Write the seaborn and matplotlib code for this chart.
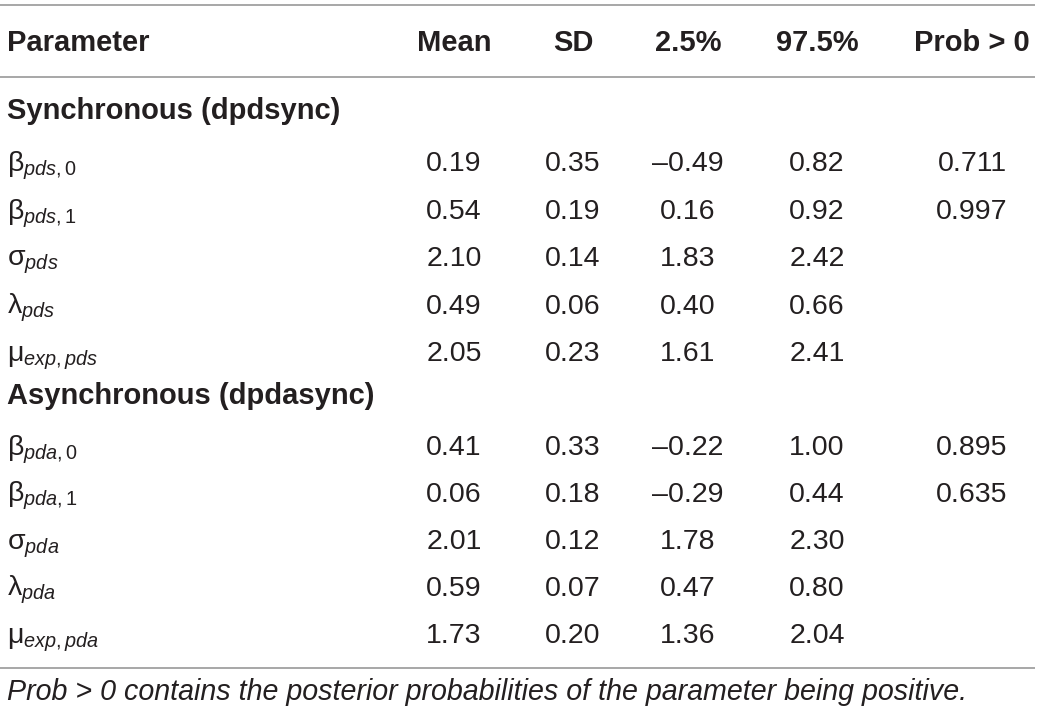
import matplotlib
matplotlib.use("Agg")
import matplotlib.pyplot as plt
import seaborn as sns

# table content
columns = ["Parameter", "Mean", "SD", "2.5%", "97.5%", "Prob > 0"]
sync_title = "Synchronous (dpdsync)"
async_title = "Asynchronous (dpdasync)"

sync_params = [r"$\mathrm{\beta}_{pds,0}$", r"$\mathrm{\beta}_{pds,1}$",
               r"$\mathrm{\sigma}_{pds}$", r"$\mathrm{\lambda}_{pds}$",
               r"$\mathrm{\mu}_{exp,pds}$"]
sync_mean = [0.19, 0.54, 2.10, 0.49, 2.05]
sync_sd = [0.35, 0.19, 0.14, 0.06, 0.23]
sync_lo = [-0.49, 0.16, 1.83, 0.40, 1.61]
sync_hi = [0.82, 0.92, 2.42, 0.66, 2.41]
sync_prob = [0.711, 0.997, None, None, None]

async_params = [r"$\mathrm{\beta}_{pda,0}$", r"$\mathrm{\beta}_{pda,1}$",
                r"$\mathrm{\sigma}_{pda}$", r"$\mathrm{\lambda}_{pda}$",
                r"$\mathrm{\mu}_{exp,pda}$"]
async_mean = [0.41, 0.06, 2.01, 0.59, 1.73]
async_sd = [0.33, 0.18, 0.12, 0.07, 0.20]
async_lo = [-0.22, -0.29, 1.78, 0.47, 1.36]
async_hi = [1.00, 0.44, 2.30, 0.80, 2.04]
async_prob = [0.895, 0.635, None, None, None]

footnote = "Prob > 0 contains the posterior probabilities of the parameter being positive."

sns.set_theme(style="white")
plt.rcParams["font.family"] = ["Liberation Sans", "DejaVu Sans"]
plt.rcParams["mathtext.fontset"] = "custom"
plt.rcParams["mathtext.rm"] = "Liberation Sans"
plt.rcParams["mathtext.it"] = "Liberation Sans:italic"
plt.rcParams["mathtext.bf"] = "Liberation Sans:bold"

TXT = "#231f20"
RULE = "#8f8f8f"
FS = 20.5
FS_BOLD = 21


def fmt(v, nd=2):
    if v is None:
        return ""
    return f"{v:.{nd}f}".replace("-", "\u2013")


fig = plt.figure(figsize=(10.4, 7.17), dpi=100)
ax = fig.add_axes([0, 0, 1, 1])
ax.set_xlim(0, 1040)
ax.set_ylim(717, 0)
ax.axis("off")

col_x = [7, 454, 573, 688, 817, 972]

# rules
for y in (5, 77, 668):
    ax.plot([0, 1035], [y, y], color=RULE, lw=1.1, solid_capstyle="butt")

# header
ax.text(col_x[0], 51, columns[0], ha="left", va="baseline", fontsize=FS_BOLD,
        fontweight="bold", color=TXT)
for x, c in zip(col_x[1:], columns[1:]):
    ax.text(x, 51, c, ha="center", va="baseline", fontsize=FS_BOLD,
            fontweight="bold", color=TXT)


def draw_block(title, title_y, row_ys, params, mean, sd, lo, hi, prob):
    ax.text(col_x[0], title_y, title, ha="left", va="baseline",
            fontsize=FS_BOLD, fontweight="bold", color=TXT)
    for i, y in enumerate(row_ys):
        ax.text(col_x[0], y, params[i], ha="left", va="baseline",
                fontsize=FS, color=TXT)
        cells = [fmt(mean[i]), fmt(sd[i]), fmt(lo[i]), fmt(hi[i]),
                 fmt(prob[i], 3)]
        for x, s in zip(col_x[1:], cells):
            ax.text(x, y, s, ha="center", va="baseline", fontsize=FS,
                    color=TXT)


draw_block(sync_title, 119, [171, 219, 266, 314, 361], sync_params,
           sync_mean, sync_sd, sync_lo, sync_hi, sync_prob)
draw_block(async_title, 404, [455, 502, 549, 596, 643], async_params,
           async_mean, async_sd, async_lo, async_hi, async_prob)

ax.text(col_x[0], 700, footnote, ha="left", va="baseline", fontsize=20.6,
        fontstyle="italic", color=TXT)

fig.savefig("out.png", dpi=100)
